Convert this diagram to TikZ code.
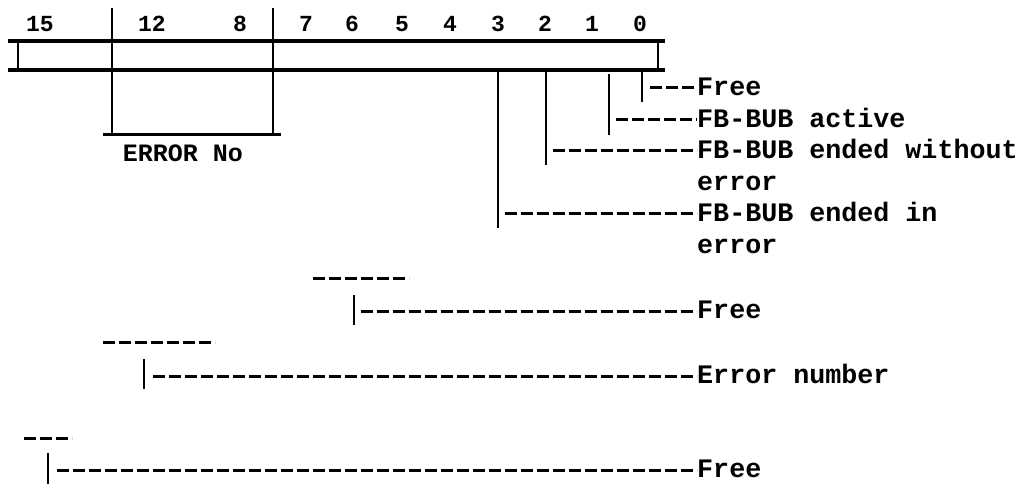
\documentclass[tikz,border=0pt]{standalone}
\usepackage{fontspec}
\newfontfamily\tw{Liberation Mono}
\begin{document}
\begin{tikzpicture}[x=1pt,y=-1pt,
  reg/.style={line width=3.5pt},
  tick/.style={line width=2pt},
  hy/.style={line width=3pt, dash pattern=on 12pt off 4pt},
  lbl/.style={anchor=west, inner sep=0pt, text height=15pt, text depth=0pt,
              font=\tw\bfseries\fontsize{26.7}{32}\selectfont},
  num/.style={inner sep=0pt, font=\tw\bfseries\fontsize{23}{28}\selectfont}]
\useasboundingbox (0,0) rectangle (1027,486);
% bit numbers
\node[num] (n15) at (40,24) {15};
\node[num] (n12) at (152,24) {12};
\node[num] (n8) at (240,24) {8};
\node[num] (n7) at (306,24) {7};
\node[num] (n6) at (352,24) {6};
\node[num] (n5) at (402,24) {5};
\node[num] (n4) at (450,24) {4};
\node[num] (n3) at (498,24) {3};
\node[num] (n2) at (545,24) {2};
\node[num] (n1) at (592,24) {1};
\node[num] (n0) at (640,24) {0};
% register
\draw[reg] (8,41) -- (665,41);
\draw[reg] (8,70) -- (665,70);
\draw[tick] (18,41) -- (18,70);
\draw[tick] (658,41) -- (658,70);
\draw[tick] (112,8) -- (112,135);
\draw[tick] (273,8) -- (273,135);
\draw[line width=3pt] (103,135) -- (281,135);
\node[lbl, anchor=center, font=\tw\bfseries\fontsize{25}{30}\selectfont] (errno) at (183,154) {ERROR No};
% labels
\node[lbl] (f0) at (697,88) {Free};
\node[lbl] (f1) at (697,120) {FB-BUB active};
\node[lbl] (f2) at (697,151) {FB-BUB ended without};
\node[lbl] (f2b) at (697,183) {error};
\node[lbl] (f3) at (697,214) {FB-BUB ended in};
\node[lbl] (f3b) at (697,246) {error};
\node[lbl] (f4) at (697,311) {Free};
\node[lbl] (f5) at (697,376) {Error number};
\node[lbl] (f6) at (697,470) {Free};
% taps
\coordinate (a0) at (642,72);  \coordinate (e0) at (642,102); \coordinate (s0) at (650,88);
\coordinate (a1) at (609,74);  \coordinate (e1) at (609,135); \coordinate (s1) at (616,120);
\coordinate (a2) at (546,70);  \coordinate (e2) at (546,165); \coordinate (s2) at (553,151);
\coordinate (a3) at (498,70);  \coordinate (e3) at (498,228); \coordinate (s3) at (505,214);
\draw[tick] (a0) -- (e0);
\draw[tick] (a1) -- (e1);
\draw[tick] (a2) -- (e2);
\draw[tick] (a3) -- (e3);
\draw[hy] (s0) -- (f0.west);
\draw[hy] (s1) -- (f1.west);
\draw[hy] (s2) -- (f2.west);
\draw[hy] (s3) -- (f3.west);
% field groups
\coordinate (o4a) at (313,278); \coordinate (o4b) at (409,278);
\coordinate (a4) at (354,295); \coordinate (e4) at (354,325); \coordinate (s4) at (361,311);
\coordinate (o5a) at (103,342); \coordinate (o5b) at (215,342);
\coordinate (a5) at (144,359); \coordinate (e5) at (144,389); \coordinate (s5) at (153,376);
\coordinate (o6a) at (24,438); \coordinate (o6b) at (72,438);
\coordinate (a6) at (48,453); \coordinate (e6) at (48,484); \coordinate (s6) at (57,470);
\draw[hy] (o4a) -- (o4b);
\draw[hy] (o5a) -- (o5b);
\draw[hy] (o6a) -- (o6b);
\draw[tick] (a4) -- (e4);
\draw[tick] (a5) -- (e5);
\draw[tick] (a6) -- (e6);
\draw[hy] (s4) -- (f4.west);
\draw[hy] (s5) -- (f5.west);
\draw[hy] (s6) -- (f6.west);
\end{tikzpicture}
\end{document}
